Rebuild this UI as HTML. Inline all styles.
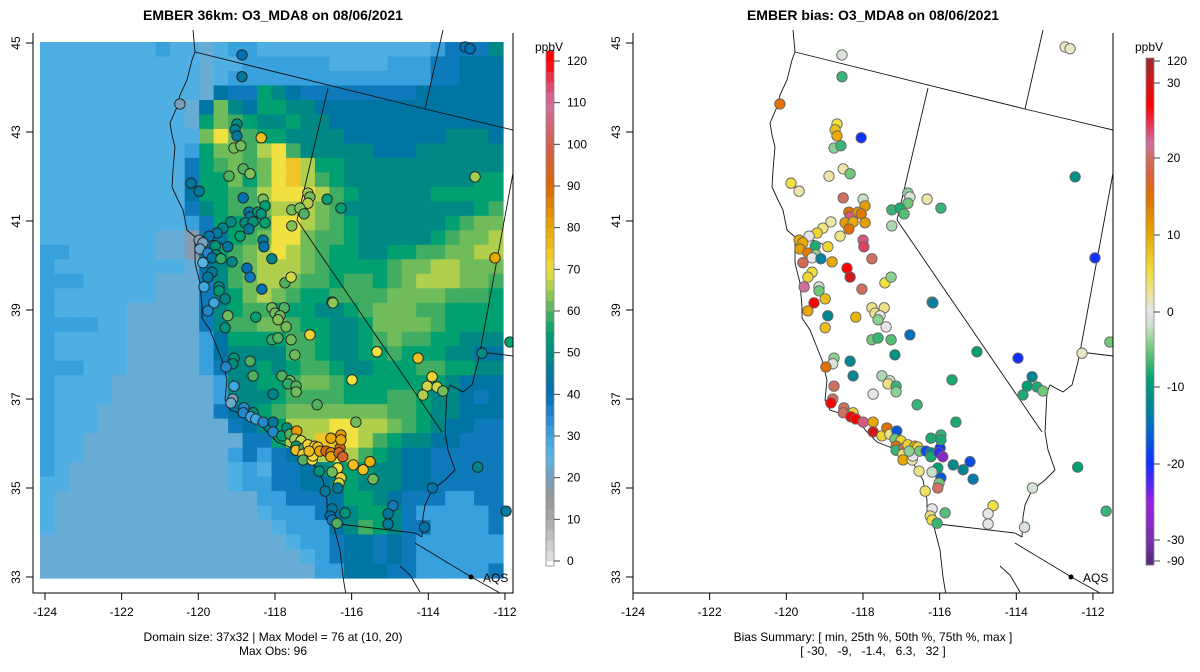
<!DOCTYPE html>
<html><head><meta charset="utf-8"><style>
html,body{margin:0;padding:0;background:#fff;}
svg{display:block;font-family:"Liberation Sans",Arial,sans-serif;}
</style></head><body>
<svg id="chart" width="1200" height="672" viewBox="0 0 1200 672" xmlns="http://www.w3.org/2000/svg">
<rect x="0" y="0" width="1200" height="672" fill="#fff"/>
<text x="273" y="20" text-anchor="middle" font-size="14" font-weight="bold">EMBER 36km: O3_MDA8 on 08/06/2021</text>
<text x="873" y="20" text-anchor="middle" font-size="14" font-weight="bold">EMBER bias: O3_MDA8 on 08/06/2021</text>
<g id="leftPanel"></g>
<g id="rightPanel"></g>
<text x="273" y="641" text-anchor="middle" font-size="12">Domain size: 37x32 | Max Model = 76 at (10, 20)</text>
<text x="273" y="655" text-anchor="middle" font-size="12">Max Obs: 96</text>
<text x="873" y="641" text-anchor="middle" font-size="12">Bias Summary: [ min, 25th %, 50th %, 75th %, max ]</text>
<text x="873" y="655" text-anchor="middle" font-size="12" xml:space="preserve">[ -30,   -9,   -1.4,   6.3,   32 ]</text>
</svg>
<script>
const heatCodes = "abcdefghijklm";
const heatVals = [18,23,27,31,38,43,49,55,59,62,66,70,74];
const heatRows = [
"ccccccccdcc"+"bcddccccccccccccdeeeg",
"ccccccccccc"+"bccddddddccccdddeefff",
"ccccccccccc"+"bc"+"dddddddddddddd"+"eefff",
"ccccccccccc"+"bfeehgfe"+"eeeeeee"+"ffffff",
"ccccccccccb"+"fjgfhhggf"+"ffffffffffff",
"ccccccccccb"+"hjihgghgg"+"ffffffffffff",
"ccccccccccc"+"jljihhgggg"+"fffffff"+"gggf",
"ccccccccccd"+"hjjikligg"+"ggg"+"fff"+"gggggg",
"cccccccccce"+"hijijlmkhh"+"ggggggggggg",
"cccccccccce"+"hhjhjlmkih"+"ggggggggg"+"hh",
"ccccccccccf"+"hhiiklllkih"+"ggggg"+"hhhhh",
"cccccccccce"+"ghiijkkkjig"+"gggggggg"+"hi",
"ccccccccccd"+"ehhiillkjihg"+"ggggg"+"hijj",
"ccccccccbba"+"efhijlljiihg"+"gggg"+"hijjk",
"ddccccccbba"+"fhijklkjihhgghhiijjkk",
"dcccccccccb"+"fgijkkkjihhhhijjkkjjj",
"dddcccccbbb"+"egijkkjiihiihijkkkjji",
"dcccccccbbb"+"eghjkjihhiiiijjjjiiih",
"dcccccbbbbb"+"eghiihhhgghijjjiihhhh",
"ddddccbbbbb"+"egiijjihhgghjjjjihhhh",
"dcccccbbbbb"+"dfhhhhiihgghijiihhggg",
"dcccccbbbbb"+"dfggggiihgghhihhhggff",
"dddcccbbbbb"+"degghghiihgghhhiihhgg",
"dccccbbbbbb"+"bdgghhijjihhhhhhhgfff",
"dccccbbbbbb"+"bdggghiiiihhhiihggfef",
"dcccbbbbbbb"+"befghijjjjjjjiihggfff",
"dcccbbbbbbb"+"bbefghkkkllkkjihgffee",
"dccbbbbbbbb"+"bbbeehkkmmlkihggffeee",
"dccbbbbbbbb"+"bbdedefgklkihgffeeeee",
"dcbbbbbbbbb"+"bbcdceefghhhggffeeeee",
"ccbbbbbbbbb"+"bbcddeeffghgggffeeeee",
"cbbbbbbbbbb"+"bbbbddeeefhhgfeeeddee",
"cbbbbbbbbbb"+"bbbbcdddefghhgeddddde",
"cbbbbbbbbbb"+"bbbbbcdddfgihgeedddde",
"bbbbbbbbbbb"+"bbbbbbcddeffefedddddd",
"bbbbbbbbbbb"+"bbbbbbbcdeffefedddddd",
"bbbbbbbbbbb"+"bbbbbbbbddfffeeddddde"
];
const stationLon = [
-120.48,-118.99,-119.04,-118.99,-118.36,-119.07,-118.89,-119.20,-118.83,-118.65,
-120.19,-119.98,-118.83,-118.31,-118.26,-118.68,-118.65,-118.44,-118.36,-118.78,
-118.57,-118.26,-118.68,-119.15,-119.36,-119.51,-119.72,-118.91,-119.98,-119.88,
-119.96,-119.75,-119.56,-119.23,-119.54,-119.64,-119.41,-119.88,-119.12,-118.31,
-118.29,-118.08,-118.73,-118.65,-119.64,-119.75,-119.85,-119.46,-119.46,-119.30,
-119.59,-119.75,-118.34,-117.74,-117.58,-119.23,-118.50,-119.30,-118.08,-118.00,
-117.76,-117.87,-117.92,-117.71,-118.08,-117.92,-117.58,-117.09,-117.48,-116.51,
-116.49,-117.14,-117.09,-117.14,-116.64,-116.28,-117.56,-117.35,-117.24,-117.56,
-115.34,-114.27,-113.90,-114.03,-113.77,-114.14,-113.62,-119.07,-119.10,-119.28,
-118.65,-118.57,-119.07,-119.10,-119.15,-118.81,-118.83,-118.57,-118.63,-118.50,
-118.31,-118.05,-118.05,-117.82,-117.69,-117.61,-117.43,-117.48,-117.32,-117.45,
-117.45,-117.24,-117.14,-116.96,-116.88,-117.27,-117.27,-117.03,-117.01,-117.11,
-116.83,-116.67,-116.54,-116.54,-116.30,-116.33,-116.23,-116.54,-116.28,-116.28,
-115.96,-115.70,-115.52,-115.44,-116.36,-116.51,-116.85,-116.28,-116.33,-116.36,
-116.69,-116.51,-116.56,-116.51,-116.38,-116.17,-114.92,-115.05,-115.05,-113.89,
-117.82,-117.61,-117.66,-117.45,-117.45,-118.05,-116.90,-115.89,-115.99,-118.86,
-118.86,-113.04,-112.91,-112.78,-112.26,-111.87,-112.60,-112.71,-111.97,-114.10];
const stationLat = [
43.63,43.18,43.05,42.91,42.87,42.64,42.69,42.01,42.17,42.06,
41.85,41.67,41.52,41.49,41.34,41.20,41.09,41.20,41.16,40.96,
40.98,40.96,40.82,40.98,40.84,40.73,40.66,40.66,40.57,40.51,
40.37,40.28,40.44,40.42,40.24,40.17,40.15,40.06,40.08,40.57,
40.42,40.15,39.94,39.74,39.85,39.74,39.52,39.52,39.43,39.25,
39.16,38.98,39.47,39.61,39.74,38.87,38.84,38.60,39.05,38.93,
39.05,38.87,38.78,38.62,38.33,38.37,38.33,38.44,37.99,39.18,
39.16,41.63,41.54,41.40,41.49,41.29,41.25,41.29,41.16,40.89,
38.06,37.92,37.50,37.29,37.27,37.09,37.18,37.92,37.79,37.72,
37.85,37.52,37.29,37.00,36.91,36.80,36.69,36.69,36.60,36.55,
36.48,36.48,36.26,36.17,36.35,36.21,36.28,36.10,36.06,35.94,
35.85,35.90,35.97,35.94,35.92,35.76,35.63,35.63,35.72,35.83,
35.83,35.83,35.79,35.70,35.90,35.79,35.70,36.12,36.19,36.08,
35.52,35.41,35.59,35.20,35.45,35.36,35.38,35.23,35.11,35.00,
34.93,34.53,34.37,34.28,34.21,34.44,34.60,34.42,34.19,35.00,
37.52,37.41,37.34,37.29,37.16,37.11,36.87,36.48,37.43,44.73,
44.24,44.91,44.87,41.99,40.17,38.28,38.03,35.47,34.48,34.12];
const stationObs = [
20,50,47,45,75,62,62,60,60,63,
45,45,40,62,55,45,45,55,52,50,
52,55,45,50,48,45,42,55,18,20,
22,35,52,44,50,45,58,25,48,45,
42,48,40,38,45,44,30,50,53,48,
30,35,40,60,68,62,55,52,62,62,
60,62,63,62,58,60,62,72,62,60,
64,65,62,66,55,55,62,63,60,63,
70,75,72,68,68,66,62,52,50,35,
60,60,30,20,22,35,35,50,30,30,
35,45,35,55,50,60,82,65,68,55,
75,60,72,72,75,72,60,70,72,76,
80,90,85,80,92,94,96,80,82,80,
75,75,78,62,70,62,52,72,68,45,
45,45,40,38,60,52,38,45,45,42,
60,62,58,60,62,48,60,62,70,40,
45,40,40,65,80,55,50,48,45,42];
const stationBias = [
15,5,8,10,-20,-4,-7,2,2,-5,
5,2,20,-2,11,15,23,11,14,11,
10,11,15,2,3,6,0,3,10,10,
11,14,-8,6,-4,0,-13,19,10,23,
24,20,27,30,5,6,22,-1,-5,8,
27,10,20,5,-4,-12,9,8,3,3,
3,0,-4,0,-5,-7,-6,-15,-11,-4,
-13,-4,-1,-5,2,-7,-7,-8,-6,-3,
-9,-20,-12,-9,-8,-8,-5,-4,-1,15,
-12,-12,20,20,27,20,20,6,27,27,
23,10,30,6,15,3,-17,-5,6,15,
-7,20,6,10,6,4,10,2,0,-4,
-5,-18,-13,-8,-20,-21,-28,-8,-7,-8,
-12,-12,-18,-14,-9,-2,3,-17,-5,20,
4,0,3,5,-7,-6,5,0,0,-1,
-3,-2,3,-7,-4,0,-7,-8,-8,-1,
-7,1,1,-11,-20,-5,1,-9,-7,-1];
const lonTicks = [-124,-122,-120,-118,-116,-114,-112];
const latTicks = [33,35,37,39,41,43,45];
const obsBarTicks = [0,10,20,30,40,50,60,70,80,90,100,110,120];
const biasBarTicks = [120,30,20,10,0,-10,-20,-30,-90];

const NS="http://www.w3.org/2000/svg";
function mk(tag,attrs,parent){const e=document.createElementNS(NS,tag);for(const k in attrs)e.setAttribute(k,attrs[k]);if(parent)parent.appendChild(e);return e;}
function hex(c){return [parseInt(c.slice(1,3),16),parseInt(c.slice(3,5),16),parseInt(c.slice(5,7),16)];}
function interp(stops,v){
  if(v<=stops[0][0])return stops[0][1];
  if(v>=stops[stops.length-1][0])return stops[stops.length-1][1];
  for(let i=0;i<stops.length-1;i++){const a=stops[i],b=stops[i+1];
    if(v>=a[0]&&v<=b[0]){const t=(v-a[0])/(b[0]-a[0]);const p=hex(a[1]),q=hex(b[1]);
      return "rgb("+p.map((x,j)=>Math.round(x+(q[j]-x)*t)).join(",")+")";}}
}
const obsStops=[[0,"#e6e6e6"],[10,"#a8a8a8"],[15,"#969696"],[20,"#78a0bc"],[25,"#5ab4e4"],[30,"#3ea6e0"],[35,"#2288cc"],[40,"#0070b0"],[45,"#00789a"],[50,"#008c80"],[55,"#00a070"],[60,"#50b060"],[65,"#a0cc50"],[70,"#f0e040"],[75,"#f0c020"],[80,"#e8a800"],[90,"#d86800"],[100,"#d06050"],[110,"#d070a0"],[115,"#e04060"],[120,"#ff0000"]];
const biasStops=[[-90,"#5a2a80"],[-30,"#7a30b0"],[-25,"#9a20e0"],[-20,"#1030ff"],[-15,"#0070c0"],[-12,"#008890"],[-9,"#00a070"],[-5,"#70c878"],[-2,"#c8e0c8"],[0,"#e6e6e6"],[2,"#ece4a8"],[5,"#f0e040"],[10,"#e8a800"],[15,"#e07000"],[18,"#d86040"],[20,"#d07060"],[22,"#d070a0"],[24,"#e04060"],[27,"#ff0000"],[30,"#d01818"],[120,"#a02828"]];
function obsColor(v){return interp(obsStops,v);}
function biasColor(v){return interp(biasStops,v);}

function xLon(lon,off){return off+45+(lon+124)*38.33;}
function yLat(lat){return 43+(45-lat)*44.5;}
function xTick(lon,off){return off+45+(lon+124)*38.33;}

const coast=[[193,30],[195,52],[192,60],[187,80],[180,95],[177,107],[170,123],[172,135],[175,147],[173,170],[172,187],[178,200],[183,210],[187,230],[195,237],[195,250],[195,263],[200,283],[202,307],[202,318],[210,330],[216,345],[222,360],[227,380],[225,400],[230,410],[245,415],[257,420],[267,432],[277,442],[297,450],[313,463],[323,480],[327,500],[327,517],[333,523],[340,550],[343,577],[346,595]];
const bay=[[196,241],[208,238],[220,243],[232,249]];
const borders=[
 [[195,52],[425,109],[513,130]],
 [[425,109],[443,30]],
 [[328,88],[297,220],[442,432]],
 [[513,173],[480,352],[513,356]],
 [[480,352],[478,362],[472,385],[463,392],[450,385],[447,392],[445,432],[448,450],[455,470],[445,480],[432,490],[425,505],[423,517],[422,537]],
 [[330,523],[415,533],[422,537]],
 [[415,543],[473,578],[500,593]],
 [[400,566],[410,575],[420,592]]
];

function panel(g,off,isBias){
  const clipId="clip"+off;
  const cp=mk("clipPath",{id:clipId},g);
  mk("rect",{x:off+33,y:30,width:480,height:563},cp);
  const inner=mk("g",{"clip-path":"url(#"+clipId+")"},g);
  if(!isBias){
    const hg=mk("g",{},inner);
    
    
    const cw=463/32,ch=536/37;
    heatRows.forEach((row,r)=>{
      for(let c=0;c<row.length;c++){
        const v=heatVals[heatCodes.indexOf(row[c])];
        const cell=mk("rect",{x:(40+c*cw).toFixed(2),y:(42+r*ch).toFixed(2),width:(cw+0.6).toFixed(2),height:(ch+0.6).toFixed(2),fill:obsColor(v)},hg);
        
        
      }
    });
  }
  const mg=mk("g",{fill:"none",stroke:"#111","stroke-width":"0.9"},inner);
  
  
  const pl=pts=>pts.map(p=>(p[0]+off)+","+p[1]).join(" ");
  const cl=mk("polyline",{points:pl(coast)},mg);
  
  
  mk("polyline",{points:pl(bay)},mg);
  borders.forEach(b=>{const e=mk("polyline",{points:pl(b)},mg);
    
    });
  const sg=mk("g",{},inner);
  
  
  for(let i=0;i<stationLon.length;i++){
    const col=isBias?biasColor(stationBias[i]):obsColor(stationObs[i]);
    const c=mk("circle",{cx:xLon(stationLon[i],off).toFixed(1),cy:yLat(stationLat[i]).toFixed(1),r:5.2,fill:col,stroke:isBias?"#666":"#222","stroke-width":"0.9"},sg);
    
    
  }
  const lg=mk("g",{},inner);
  
  
  mk("circle",{cx:off+471,cy:577,r:2.5,fill:"#000"},lg);
  const lt=mk("text",{x:off+483,y:582,"font-size":"12"},lg);lt.textContent="AQS";
  const ao=isBias?588:0;
  const ax=mk("g",{stroke:"#000","stroke-width":"1",fill:"none"},g);
  
  
  mk("polyline",{points:(off+33)+",33 "+(off+33)+",593 "+(off+513)+",593 "+(off+513)+",33"},ax);
  lonTicks.forEach(t=>{const x=xTick(t,ao);
    mk("line",{x1:x,y1:593,x2:x,y2:600},ax);
    const tx=mk("text",{x:x,y:616,"text-anchor":"middle","font-size":"12",fill:"#000",stroke:"none"},g);
    
    
    tx.textContent=t;});
  latTicks.forEach(t=>{const y=yLat(t);
    mk("line",{x1:off+33,y1:y,x2:off+26,y2:y},ax);
    const tx=mk("text",{x:off+20,y:y,"text-anchor":"middle","font-size":"12",fill:"#000",transform:"rotate(-90 "+(off+20)+" "+y+")"},g);
    
    
    tx.textContent=t;});
}
panel(document.getElementById("leftPanel"),0,false);
panel(document.getElementById("rightPanel"),600,true);

const svg=document.getElementById("chart");
function obsBarY(v){return 561-(v)*500/120;}
const obsBar=mk("g",{},svg);


for(let v=0;v<122;v+=2.5){
  mk("rect",{x:546,y:obsBarY(v+2.5),width:8,height:(obsBarY(v)-obsBarY(v+2.5)+0.5),fill:obsColor(v+1.25)},obsBar);
}
mk("rect",{x:546,y:obsBarY(122.5),width:8,height:obsBarY(-1.2)-obsBarY(122.5),fill:"none",stroke:"#888","stroke-width":"0.8"},obsBar);
obsBarTicks.forEach(t=>{const y=obsBarY(t);
  mk("line",{x1:554,y1:y,x2:560,y2:y,stroke:"#444"},obsBar);
  const tx=mk("text",{x:567,y:y+4,"font-size":"12"},obsBar);
  
  
  tx.textContent=t;});
const u1=mk("text",{x:549,y:51,"text-anchor":"middle","font-size":"12"},obsBar);u1.textContent="ppbV";

const biasTickY=[61,83,158,235,312,387,464,540,561];
function biasBarY(v){
  for(let i=0;i<biasBarTicks.length-1;i++){const a=biasBarTicks[i],b=biasBarTicks[i+1];
    if(v<=a&&v>=b)return biasTickY[i]+(a-v)/(a-b)*(biasTickY[i+1]-biasTickY[i]);}
  return v>120?58:565;
}
const biasBar=mk("g",{},svg);


for(let y=58;y<565;y+=3){
  let v=0;
  for(let i=0;i<biasTickY.length-1;i++){if(y+1.5>=biasTickY[i]&&y+1.5<=biasTickY[i+1]){const a=biasBarTicks[i],b=biasBarTicks[i+1];v=a+(y+1.5-biasTickY[i])/(biasTickY[i+1]-biasTickY[i])*(b-a);}}
  if(y+1.5<61)v=120;if(y+1.5>561)v=-90;
  mk("rect",{x:1146,y:y,width:8,height:3.5,fill:biasColor(v)},biasBar);
}
mk("rect",{x:1146,y:58,width:8,height:507,fill:"none",stroke:"#888","stroke-width":"0.8"},biasBar);
biasBarTicks.forEach((t,i)=>{const y=biasBarY(t);
  mk("line",{x1:1154,y1:y,x2:1160,y2:y,stroke:"#444"},biasBar);
  const tx=mk("text",{x:1167,y:y+4,"font-size":"12"},biasBar);
  
  
  tx.textContent=t;});
const u2=mk("text",{x:1149,y:51,"text-anchor":"middle","font-size":"12"},biasBar);u2.textContent="ppbV";
</script>
</body></html>
